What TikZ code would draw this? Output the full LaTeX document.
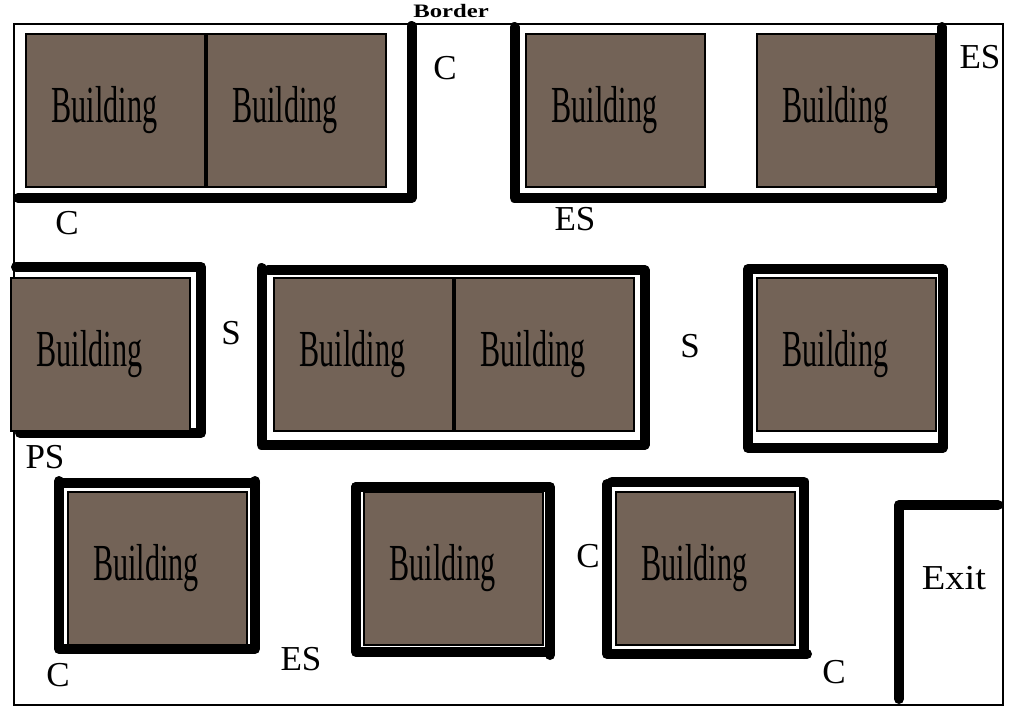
\documentclass[tikz,border=0pt]{standalone}
\usepackage{fontspec}
\setmainfont{Liberation Serif}
\definecolor{bldfill}{HTML}{736357}
\tikzset{
  x=1pt,y=-1pt,
  frameline/.style={draw=black,line width=2pt},
  wall/.style={draw=black,line width=10pt,line cap=round,line join=round},
  bld/.style={draw=black,line width=2pt,fill=bldfill,rectangle,anchor=north west,inner sep=0pt,outer sep=0pt,minimum width=179pt,minimum height=153pt},
  bldtext/.style={anchor=base west,inner sep=0pt,font=\fontsize{52}{52}\selectfont,xscale=0.58},
  lab/.style={anchor=base,inner sep=0pt,font=\fontsize{35}{35}\selectfont},
}
\newcommand{\bldg}[3]{%
  \node[bld] (b#1) at (#2,#3) {};
  \node[bldtext] (t#1) at (#2+25.5,#3+88) {Building};
}
\begin{document}
\begin{tikzpicture}
\useasboundingbox (0,0) rectangle (1024,720);
\fill[white] (0,0) rectangle (1024,720);
\draw[frameline] (14,24) rectangle (1003,705);
% walls
\draw[wall] (411.5,26) -- (411.5,198) -- (18,198);
\draw[wall] (514.5,27) -- (514.5,198) -- (942,198) -- (942,27);
\draw[wall] (16,267) -- (201,267) -- (201,433) -- (20,433);
\draw[wall] (261.5,268) -- (261.5,445) -- (644.5,445) -- (644.5,270) -- (268,270);
\draw[wall] (748,269) -- (748,448) -- (942.5,448) -- (942.5,269) -- cycle;
\draw[wall] (59,481) -- (59,649) -- (255,649) -- (255,481);
\draw[wall] (59,483) -- (255,483);
\draw[wall] (356,487) -- (356,652) -- (550,652);
\draw[wall] (356,487) -- (550,487) -- (550,655);
\draw[wall] (612,481.5) -- (803.5,481.5) -- (803.5,654);
\draw[wall] (807,654) -- (607,654) -- (607,484);
\draw[wall] (998,505) -- (899,505) -- (899,699);
% buildings
\bldg{a}{26}{34}
\bldg{b}{206.5}{34}
\bldg{c}{526}{34}
\bldg{d}{757}{34}
\bldg{e}{11}{278}
\bldg{f}{274}{278}
\bldg{g}{454.5}{278}
\bldg{h}{757}{278}
\bldg{i}{67.5}{492}
\bldg{j}{364}{492}
\bldg{k}{616}{492}
% labels
\node[anchor=base,inner sep=0pt,font=\fontsize{19}{19}\selectfont\bfseries,xscale=1.3] (border) at (451,17) {Border};
\node[lab] (l1) at (445,79) {C};
\node[lab] (l2) at (67,234) {C};
\node[lab] (l3) at (980,68) {ES};
\node[lab] (l4) at (575,230) {ES};
\node[lab] (l5) at (231,344) {S};
\node[lab] (l6) at (690,357) {S};
\node[lab] (l7) at (45,468) {PS};
\node[lab] (l8) at (58,686) {C};
\node[lab] (l9) at (301,670) {ES};
\node[lab] (l10) at (588,567) {C};
\node[lab] (l11) at (834,683) {C};
\node[lab,xscale=1.1] (l12) at (954,589) {Exit};
\end{tikzpicture}
\end{document}
